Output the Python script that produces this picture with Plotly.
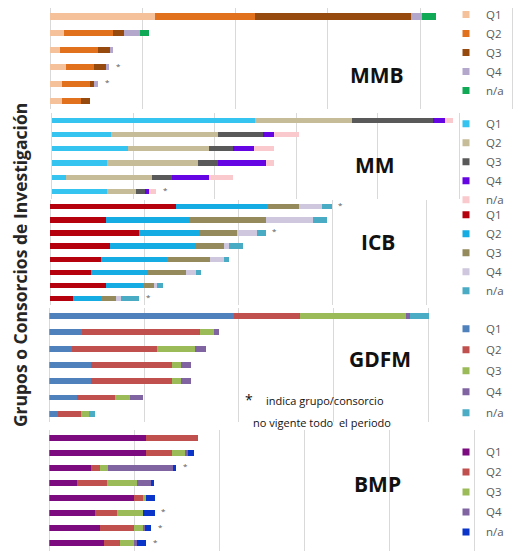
import plotly.graph_objects as go

# ---------------- data ----------------
quartiles = ["Q1", "Q2", "Q3", "Q4", "n/a"]

mmb_groups = ["MMB-1", "MMB-2", "MMB-3", "MMB-4", "MMB-5", "MMB-6"]
mmb_q1 = [11.4, 1.5, 1.1, 1.7, 1.3, 1.3]
mmb_q2 = [10.8, 5.3, 4.1, 3.1, 3.0, 2.0]
mmb_q3 = [16.8, 1.2, 1.3, 1.2, 0.5, 1.0]
mmb_q4 = [1.2, 1.7, 0.3, 0.4, 0.4, 0.0]
mmb_na = [1.5, 1.0, 0.0, 0.0, 0.0, 0.0]
mmb_star = [0, 0, 0, 1, 1, 0]

mm_groups = ["MM-1", "MM-2", "MM-3", "MM-4", "MM-5", "MM-6"]
mm_q1 = [24.9, 7.3, 9.3, 6.8, 1.8, 6.8]
mm_q2 = [12.0, 13.1, 10.0, 11.1, 10.5, 3.5]
mm_q3 = [9.9, 5.5, 3.0, 2.5, 2.5, 1.1]
mm_q4 = [1.5, 1.4, 2.5, 5.9, 4.5, 0.5]
mm_na = [1.0, 3.0, 2.5, 1.0, 3.0, 0.9]
mm_star = [0, 0, 0, 0, 0, 1]

icb_groups = ["ICB-1", "ICB-2", "ICB-3", "ICB-4", "ICB-5", "ICB-6", "ICB-7", "ICB-8"]
icb_q1 = [13.4, 5.9, 9.4, 6.4, 5.4, 4.4, 5.9, 2.4]
icb_q2 = [9.6, 9.0, 6.5, 9.1, 7.0, 6.0, 4.0, 3.0]
icb_q3 = [3.4, 8.0, 4.0, 3.0, 4.6, 4.0, 1.1, 1.6]
icb_q4 = [2.5, 5.0, 2.1, 0.5, 1.5, 1.1, 0.4, 0.5]
icb_na = [1.0, 1.5, 0.9, 1.5, 0.5, 0.5, 0.6, 2.0]
icb_star = [1, 0, 1, 0, 0, 0, 0, 1]

gdfm_groups = ["GDFM-1", "GDFM-2", "GDFM-3", "GDFM-4", "GDFM-5", "GDFM-6", "GDFM-7"]
gdfm_q1 = [19.5, 3.4, 2.4, 4.4, 4.4, 2.9, 0.9]
gdfm_q2 = [7.0, 12.5, 9.0, 8.5, 8.5, 4.0, 2.4]
gdfm_q3 = [11.1, 1.5, 4.0, 1.0, 1.0, 1.6, 0.9]
gdfm_q4 = [0.5, 0.5, 1.1, 1.1, 1.1, 1.4, 0.0]
gdfm_na = [2.0, 0.0, 0.0, 0.0, 0.0, 0.0, 0.6]
gdfm_star = [0, 0, 0, 0, 0, 0, 0]

bmp_groups = ["BMP-1", "BMP-2", "BMP-3", "BMP-4", "BMP-5", "BMP-6", "BMP-7", "BMP-8"]
bmp_q1 = [11.4, 11.4, 4.9, 3.3, 9.9, 5.4, 5.9, 6.4]
bmp_q2 = [6.1, 3.0, 1.0, 3.5, 1.1, 2.5, 4.0, 1.9]
bmp_q3 = [0.0, 1.5, 1.0, 3.5, 0.4, 3.1, 1.2, 1.6]
bmp_q4 = [0.0, 0.4, 7.6, 1.6, 0.0, 0.0, 0.2, 0.4]
bmp_na = [0.0, 0.7, 0.4, 0.4, 1.0, 1.4, 0.7, 1.1]
bmp_star = [0, 0, 1, 0, 0, 1, 1, 1]

panel_names = ["MMB", "MM", "ICB", "GDFM", "BMP"]
axis_title = "Grupos o Consorcios de Investigación"
note_line1 = "indica grupo/consorcio"
note_line2 = "no vigente todo  el periodo"

# ---------------- styles ----------------
W, H = 530, 555
def px(x):
    return x / W
def py(y):
    return 1 - y / H

panels = [
    dict(groups=mmb_groups, series=[mmb_q1, mmb_q2, mmb_q3, mmb_q4, mmb_na], star=mmb_star,
         colors=["#F5C19B", "#E2711D", "#974A0E", "#B3A7CC", "#10A955"],
         left=50, right=515, ppu=9.25, top=4, bottom=106, width=0.38,
         label_xy=(377, 72), legend_y=48.5, leg_gap=0),
    dict(groups=mm_groups, series=[mm_q1, mm_q2, mm_q3, mm_q4, mm_na], star=mm_star,
         colors=["#35C4F0", "#C6BD98", "#595959", "#6505E3", "#F9C9CD"],
         left=51.7, right=470, ppu=8.15, top=110, bottom=196, width=0.38,
         label_xy=(375, 162), legend_y=159, leg_gap=0),
    dict(groups=icb_groups, series=[icb_q1, icb_q2, icb_q3, icb_q4, icb_na], star=icb_star,
         colors=["#B5000E", "#14ACE2", "#958A5B", "#CEC7DD", "#4AABC4"],
         left=50, right=440, ppu=9.42, top=197.5, bottom=303.5, width=0.42,
         label_xy=(378, 240), legend_y=250.5, leg_gap=0),
    dict(groups=gdfm_groups, series=[gdfm_q1, gdfm_q2, gdfm_q3, gdfm_q4, gdfm_na], star=gdfm_star,
         colors=["#4F81BD", "#C0504D", "#9BBB59", "#8064A2", "#4BACC6"],
         left=49.3, right=440, ppu=9.475, top=306, bottom=421, width=0.36,
         label_xy=(380, 358), legend_y=369.5, leg_gap=2),
    dict(groups=bmp_groups, series=[bmp_q1, bmp_q2, bmp_q3, bmp_q4, bmp_na], star=bmp_star,
         colors=["#7B0B7E", "#C0504D", "#9BBB59", "#8064A2", "#0B35C8"],
         left=49.3, right=485, ppu=8.51, top=429.5, bottom=550.5, width=0.42,
         label_xy=(377, 483), legend_y=491.5, leg_gap=1),
]

fig = go.Figure()
layout = dict(
    width=W, height=H,
    margin=dict(l=0, r=0, t=0, b=0),
    paper_bgcolor="white", plot_bgcolor="white",
    barmode="stack",
    font=dict(family="Open Sans, Noto Sans, sans-serif", color="#595959"),
    annotations=[],
)

for i, p in enumerate(panels):
    k = "" if i == 0 else str(i + 1)
    xa, ya = "x" + k, "y" + k
    leg = "legend" + k
    name = panel_names[i]
    for j, q in enumerate(quartiles):
        fig.add_trace(go.Bar(
            x=p["series"][j], y=p["groups"], orientation="h",
            marker=dict(color=p["colors"][j], line=dict(width=0)),
            width=p["width"], xaxis=xa, yaxis=ya,
            name=q, legendgroup=name + q, showlegend=False,
            hovertemplate=name + " %{y} " + q + ": %{x}<extra></extra>",
        ))
        # legend entry with a small square symbol
        fig.add_trace(go.Scatter(
            x=[None], y=[None], mode="markers", xaxis=xa, yaxis=ya,
            marker=dict(symbol="square", size=7, color=p["colors"][j]),
            name=q, legendgroup=name + q, legend=leg, showlegend=True,
        ))
    totals = [sum(v) for v in zip(*p["series"])]
    rng = (p["right"] - p["left"]) / p["ppu"]
    layout["xaxis" + k] = dict(
        domain=[px(p["left"]), px(p["right"])], range=[0, rng], anchor=ya,
        dtick=10, showticklabels=False, ticks="",
        showgrid=True, gridcolor="#D9D9D9", gridwidth=1,
        zeroline=True, zerolinecolor="#D9D9D9", zerolinewidth=1, showline=False,
        fixedrange=True,
    )
    n = len(p["groups"])
    layout["yaxis" + k] = dict(
        domain=[py(p["bottom"]), py(p["top"])], anchor=xa,
        type="category", categoryorder="array", categoryarray=p["groups"],
        range=[n - 0.5, -0.5], showticklabels=False, ticks="",
        showgrid=False, zeroline=False, showline=False, fixedrange=True,
    )
    layout[leg] = dict(
        x=px(446), y=py(p["legend_y"]), xanchor="left", yanchor="middle",
        bgcolor="rgba(0,0,0,0)", borderwidth=0,
        font=dict(size=11.5, color="#595959"),
        tracegroupgap=p["leg_gap"], traceorder="grouped",
        itemclick=False, itemdoubleclick=False,
    )
    # panel label
    layout["annotations"].append(dict(
        x=px(p["label_xy"][0]), y=py(p["label_xy"][1]), xref="paper", yref="paper",
        text="<b>" + name + "</b>", showarrow=False, xanchor="center", yanchor="middle",
        font=dict(size=21, color="#111111", family="Open Sans, sans-serif"),
    ))
    # asterisks for groups not active the whole period
    for g, t, s in zip(p["groups"], totals, p["star"]):
        if s:
            layout["annotations"].append(dict(
                x=t, y=g, xref=xa, yref=ya, text="*", showarrow=False,
                xanchor="center", yanchor="middle", xshift=9, yshift=2,
                font=dict(size=8, color="#595959"),
            ))

# y-axis title (shared)
layout["annotations"].append(dict(
    x=px(20), y=py(263), xref="paper", yref="paper", text="<b>" + axis_title + "</b>",
    textangle=-90, showarrow=False, xanchor="center", yanchor="middle",
    font=dict(size=17.5, color="#262626", family="Open Sans, sans-serif"),
))
# note
layout["annotations"].append(dict(
    x=px(249), y=py(398), xref="paper", yref="paper", text="*", showarrow=False,
    xanchor="center", yanchor="middle", font=dict(size=14, color="#111111"),
))
layout["annotations"].append(dict(
    x=px(264), y=py(399), xref="paper", yref="paper", text=note_line1, showarrow=False,
    xanchor="left", yanchor="middle", font=dict(size=11, color="#111111"),
))
layout["annotations"].append(dict(
    x=px(322), y=py(422), xref="paper", yref="paper", text=note_line2, showarrow=False,
    xanchor="center", yanchor="middle", font=dict(size=11, color="#111111"),
))

fig.update_layout(**layout)
fig.write_html("out.html", config={"displayModeBar": False},
               post_script="document.body.style.margin='0px';")
